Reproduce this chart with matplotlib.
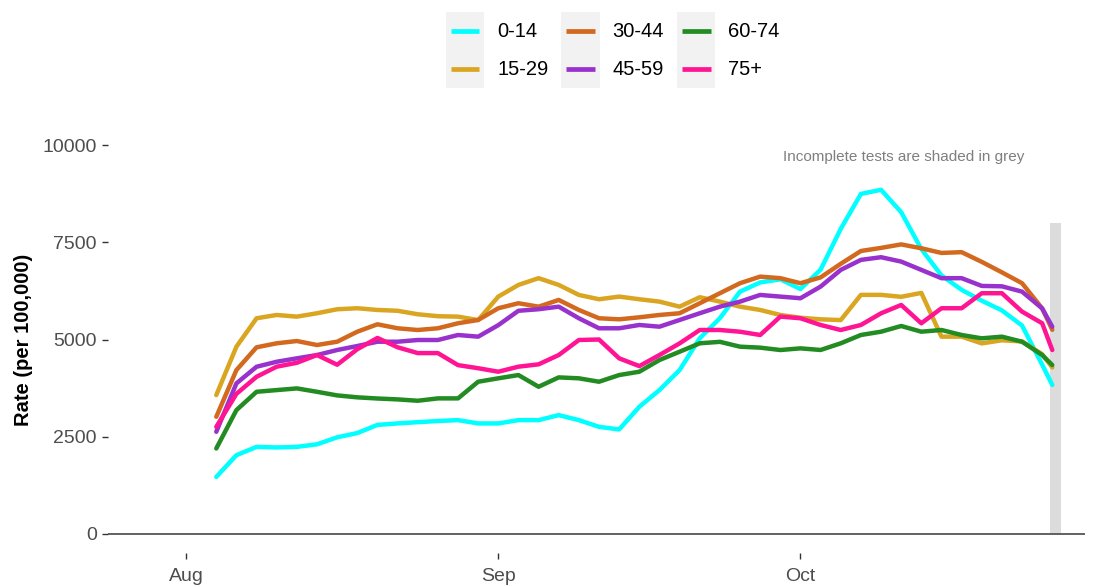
import pandas as pd
import matplotlib
matplotlib.use('Agg')
from matplotlib import pyplot as plt
from matplotlib import dates as mdates
from matplotlib.patches import Rectangle
from matplotlib.lines import Line2D
from matplotlib.legend_handler import HandlerBase

plt.rcParams['font.family'] = ['Liberation Sans', 'DejaVu Sans']

# dates: every second day from 4 Aug, plus the last (incomplete) day
dates = list(pd.date_range('2020-08-04', '2020-10-25', freq='2D')) + [pd.Timestamp('2020-10-26')]

age_groups = ['0-14', '15-29', '30-44', '45-59', '60-74', '75+']
colours = ['#00FFFF', '#DAA520', '#D2691E', '#9932CC', '#228B22', '#FF1493']

rate_0_14 = [1460, 2020, 2234, 2219, 2234, 2300, 2480, 2590, 2800, 2838, 2870, 2900, 2923, 2838,
             2838, 2923, 2923, 3052, 2923, 2750, 2683, 3266, 3697, 4213, 5031, 5550, 6233, 6470,
             6550, 6300, 6800, 7850, 8750, 8857, 8280, 7330, 6650, 6280, 6000, 5750, 5360, 4350, 3830]
rate_15_29 = [3568, 4815, 5547, 5632, 5589, 5676, 5779, 5805, 5761, 5740, 5650, 5600, 5589, 5500,
              6105, 6406, 6580, 6406, 6148, 6037, 6105, 6037, 5976, 5846, 6089, 5976, 5846, 5761,
              5632, 5560, 5520, 5500, 6150, 6150, 6100, 6200, 5073, 5073, 4900, 4980, 4950, 4620, 4280]
rate_30_44 = [3009, 4213, 4799, 4902, 4961, 4858, 4943, 5201, 5392, 5289, 5245, 5289, 5418, 5503,
              5805, 5934, 5846, 6019, 5761, 5547, 5520, 5572, 5632, 5676, 5934, 6192, 6450, 6620,
              6580, 6450, 6600, 6950, 7280, 7360, 7450, 7350, 7230, 7250, 7000, 6730, 6450, 5800, 5250]
rate_45_59 = [2622, 3870, 4298, 4427, 4515, 4600, 4729, 4832, 4943, 4943, 4987, 4987, 5116, 5073,
              5370, 5740, 5780, 5846, 5547, 5289, 5289, 5374, 5330, 5503, 5676, 5846, 5976, 6148,
              6105, 6063, 6363, 6793, 7051, 7120, 7007, 6793, 6579, 6580, 6380, 6370, 6233, 5800, 5330]
rate_60_74 = [2193, 3181, 3653, 3697, 3740, 3653, 3560, 3510, 3480, 3457, 3422, 3483, 3483, 3912,
              4000, 4084, 3783, 4024, 4000, 3912, 4084, 4170, 4471, 4685, 4902, 4940, 4815, 4790,
              4729, 4772, 4730, 4902, 5116, 5201, 5348, 5201, 5245, 5116, 5030, 5073, 4943, 4600, 4342]
rate_75_plus = [2750, 3600, 4040, 4300, 4400, 4600, 4350, 4750, 5040, 4800, 4650, 4650, 4340, 4260,
                4170, 4300, 4360, 4600, 4987, 5000, 4515, 4315, 4600, 4900, 5245, 5245, 5200, 5116,
                5590, 5547, 5374, 5245, 5374, 5675, 5890, 5418, 5805, 5805, 6192, 6192, 5718, 5418, 4729]

series = [rate_0_14, rate_15_29, rate_30_44, rate_45_59, rate_60_74, rate_75_plus]

# incomplete period (grey band)
incomplete_start = pd.Timestamp('2020-10-25 19:00')
incomplete_end = pd.Timestamp('2020-10-26 22:00')
incomplete_top = 8000


class GreyKey(HandlerBase):
    # legend key with a light grey background, like ggplot
    def create_artists(self, legend, orig_handle, xdescent, ydescent, width, height, fontsize, trans):
        bg = Rectangle((-xdescent, -ydescent), width, height,
                       facecolor='#F2F2F2', edgecolor='none', transform=trans)
        y = height / 2. - ydescent
        ln = Line2D([-xdescent + 0.12 * width, -xdescent + 0.88 * width], [y, y],
                    color=orig_handle.get_color(), lw=3.4,
                    solid_capstyle='butt', transform=trans)
        return [bg, ln]


fig = plt.figure(figsize=(10.96, 5.87), dpi=100)
ax = fig.add_axes([108 / 1096, 34 / 587, 977 / 1096, 427 / 587])

ax.fill_between([incomplete_start, incomplete_end], 0, incomplete_top, color='#DCDCDC', lw=0, zorder=1)
ax.axhline(0, color='#555555', lw=1.3, zorder=2)

handles = []
for vals, name, col in zip(series, age_groups, colours):
    h, = ax.plot(dates, vals, color=col, lw=3.2, label=name, zorder=3,
                 solid_joinstyle='round', solid_capstyle='round')
    handles.append(h)

ax.set_xlim(pd.Timestamp('2020-07-24 06:00'), pd.Timestamp('2020-10-29 06:00'))
ax.set_ylim(-500, 10500)
ax.set_yticks([0, 2500, 5000, 7500, 10000])
ax.xaxis.set_major_locator(mdates.MonthLocator())
ax.xaxis.set_major_formatter(mdates.DateFormatter('%b'))

for s in ax.spines.values():
    s.set_visible(False)
ax.tick_params(axis='both', length=4, width=1, color='#333333', labelcolor='#4D4D4D', labelsize=14)
ax.tick_params(axis='y', pad=4)
ax.tick_params(axis='x', pad=7)

ax.set_ylabel('Rate (per 100,000)', fontsize=14.5, fontweight='bold', color='black')
ax.yaxis.set_label_coords(-0.077, 0.5)

ax.text(pd.Timestamp('2020-10-11 05:00'), 9700, 'Incomplete tests are shaded in grey',
        ha='center', va='center', fontsize=11, color='#7F7F7F')

fig.legend(handles=handles, labels=age_groups, ncol=3, loc='upper left',
           bbox_to_anchor=(446 / 1096, 1 - 12 / 587), bbox_transform=fig.transFigure,
           frameon=False, fontsize=14.5, handler_map={Line2D: GreyKey()},
           handlelength=1.89, handleheight=2.53, labelspacing=0, handletextpad=0.65,
           columnspacing=0.65, borderpad=0, borderaxespad=0)

fig.savefig('out.png', dpi=100)
